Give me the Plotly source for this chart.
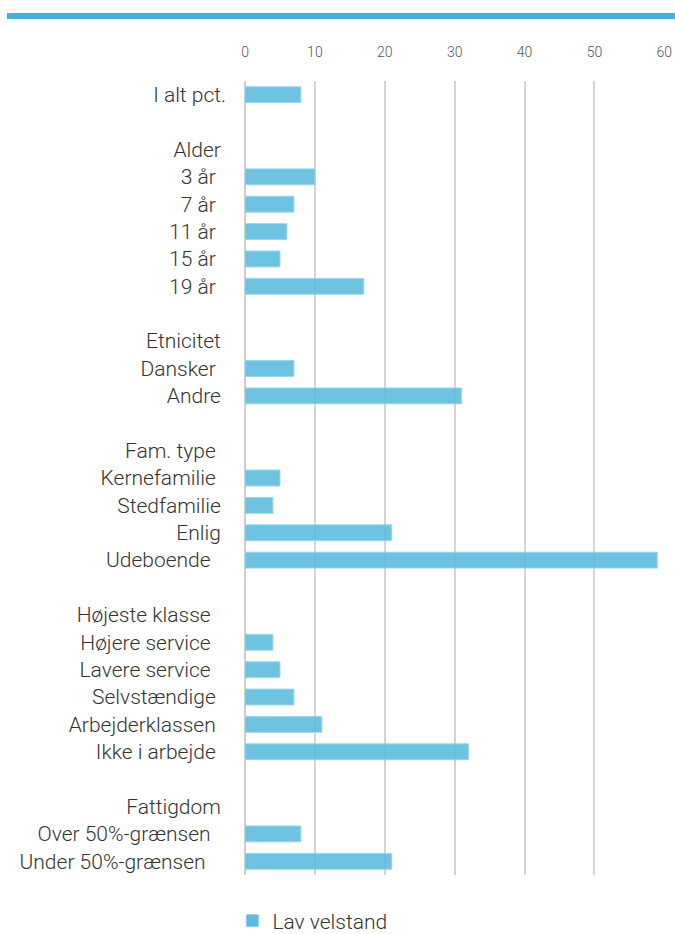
import plotly.graph_objects as go

labels = ["I alt pct.", "", "Alder", "3 år", "7 år", "11 år", "15 år", "19 år", "",
          "Etnicitet", "Dansker", "Andre", "",
          "Fam. type", "Kernefamilie", "Stedfamilie", "Enlig", "Udeboende", "",
          "Højeste klasse", "Højere service", "Lavere service", "Selvstændige",
          "Arbejderklassen", "Ikke i arbejde", "",
          "Fattigdom", "Over 50%-grænsen", "Under 50%-grænsen"]
values = [8, None, None, 10, 7, 6, 5, 17, None,
          None, 7, 31, None,
          None, 5, 4, 21, 59, None,
          None, 4, 5, 7, 11, 32, None,
          None, 8, 21]
x_ticks = [0, 10, 20, 30, 40, 50, 60]
series_name = "Lav velstand"

# trailing spaces as in the source labels (right-edge offsets differ per label)
trail = {"Alder": 1, "3 år": 2, "7 år": 2, "11 år": 2, "15 år": 2, "19 år": 2,
         "Etnicitet": 1, "Dansker": 2, "Andre": 1, "Fam. type": 2, "Kernefamilie": 2,
         "Stedfamilie": 1, "Enlig": 1, "Udeboende": 3, "Højeste klasse": 3,
         "Højere service": 3, "Lavere service": 3, "Selvstændige": 2,
         "Arbejderklassen": 2, "Ikke i arbejde": 2, "Fattigdom": 1,
         "Over 50%-grænsen": 3, "Under 50%-grænsen": 4}

positions = list(range(len(labels)))
ticktext = [l + "\u00a0" * trail.get(l, 0) for l in labels]

fig = go.Figure()
fig.add_trace(go.Bar(
    x=values, y=positions, orientation="h", name=series_name,
    marker=dict(color="#5BBBDD", opacity=0.88, line=dict(color="#8fd2ea", width=1)),
    showlegend=True,
))

fig.update_layout(
    template="none",
    width=675, height=934,
    margin=dict(l=245, r=10, t=81, b=59, autoexpand=False),
    paper_bgcolor="white", plot_bgcolor="white",
    font=dict(family="Roboto, 'Noto Sans', sans-serif", color="#333333", size=21, weight=300),
    bargap=0.42,
    xaxis=dict(
        side="top", range=[0, 60.1], tickvals=x_ticks, automargin=False,
        showgrid=True, gridcolor="#d4d4d4", gridwidth=1.5,
        zeroline=True, zerolinecolor="#cfcfcf", zerolinewidth=1.5,
        showline=False, ticks="", ticklabelstandoff=20,
        tickfont=dict(size=14, color="#555555", weight=300),
        fixedrange=True,
    ),
    yaxis=dict(
        tickvals=positions, ticktext=ticktext, range=[len(labels) - 0.5, -0.5],
        automargin=False,
        showgrid=False, zeroline=False, showline=False, ticks="",
        tickfont=dict(size=21, color="#333333", weight=300), ticklabelstandoff=18,
    ),
    legend=dict(orientation="h", x=-0.03, xanchor="left", y=-0.058, yanchor="middle",
                font=dict(size=21, color="#333333", weight=300), itemwidth=30),
    shapes=[dict(type="line", xref="paper", yref="paper",
                 x0=(7 - 245) / 420, x1=(675 - 245) / 420,
                 y0=(875 - 16) / 794, y1=(875 - 16) / 794,
                 line=dict(color="#4BAED8", width=6))],
)

fig.write_html("out.html", config={"displayModeBar": False},
               post_script="document.body.style.margin='0px';")
